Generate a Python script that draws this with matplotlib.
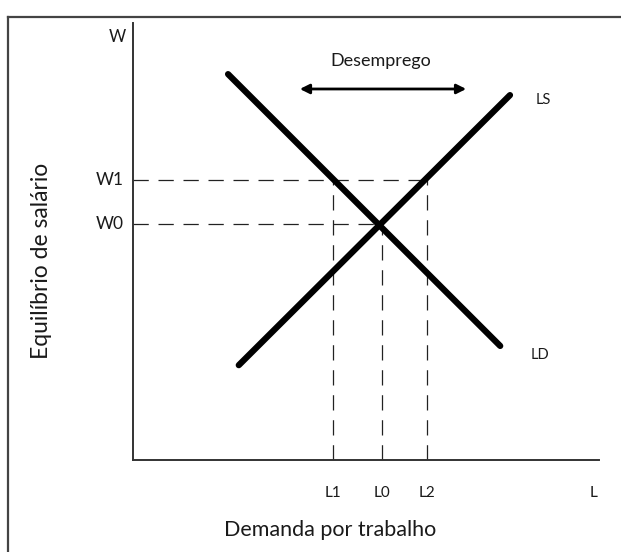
import numpy as np
import matplotlib
matplotlib.use("Agg")
import matplotlib.pyplot as plt
from matplotlib.lines import Line2D

plt.rcParams['font.family'] = ['Lato', 'DejaVu Sans']
plt.rcParams['lines.scale_dashes'] = False

# curvas (unidades arbitrárias, origem no cruzamento dos eixos)
ls_x = [22.7, 80.9]
ls_y = [21.7, 83.5]
ld_x = [20.4, 78.8]
ld_y = [88.3, 26.1]

# equilíbrio e salário acima do equilíbrio
w0, w1 = 54.0, 64.0
l0, l1, l2 = 53.5, 43.0, 63.0
desemprego = [35.8, 71.5]
desemprego_y = 84.9

tick_labels_x = ['L1', 'L0', 'L2']
tick_pos_x = [l1, l0, l2]

fig = plt.figure(figsize=(6.21, 5.52), dpi=100)
W, H = 621, 552
# eixos: origem em (133, 460) px, topo em 23 px, direita em 599 px
ax = fig.add_axes([133 / W, (H - 460) / H, (599 - 133) / W, (460 - 23) / H])
ax.set_xlim(0, 100)
ax.set_ylim(0, 100)
ax.set_clip_on(False)
for s in ['top', 'right']:
    ax.spines[s].set_visible(False)
for s in ['left', 'bottom']:
    ax.spines[s].set_linewidth(1.4)
    ax.spines[s].set_color('#333333')
ax.set_xticks([])
ax.set_yticks([])

# moldura (só topo e esquerda visíveis)
fig.add_artist(Line2D([8 / W, 1.0], [1 - 17 / H, 1 - 17 / H], transform=fig.transFigure,
                      color='#444444', lw=1.6))
fig.add_artist(Line2D([8 / W, 8 / W], [0, 1 - 17 / H], transform=fig.transFigure,
                      color='#444444', lw=1.6))

dash = (0, (11, 7))
dc = '#222222'
ax.plot([0, l2], [w1, w1], color=dc, lw=0.9, linestyle=dash)
ax.plot([0, l0], [w0, w0], color=dc, lw=0.9, linestyle=dash)
ax.plot([l1, l1], [0, w1], color=dc, lw=0.9, linestyle=dash)
ax.plot([l0, l0], [0, w0], color=dc, lw=0.9, linestyle=dash)
ax.plot([l2, l2], [0, w1], color=dc, lw=0.9, linestyle=dash)

ax.plot(ls_x, ls_y, color='black', lw=4.5, solid_capstyle='round')
ax.plot(ld_x, ld_y, color='black', lw=4.5, solid_capstyle='round')

ax.annotate('', xy=(desemprego[0], desemprego_y), xytext=(desemprego[1], desemprego_y),
            arrowprops=dict(arrowstyle='<|-|>', color='black', lw=2.0,
                            mutation_scale=14, shrinkA=0, shrinkB=0))
tc = '#1a1a1a'
ax.text(sum(desemprego) / 2 - 0.5, 91.3, 'Desemprego', ha='center', va='center',
        fontsize=13, color=tc)

ax.text(-3.4, 96.8, 'W', ha='center', va='center', fontsize=12, color=tc)
ax.text(-4.9, w1, 'W1', ha='center', va='center', fontsize=12.5, color=tc)
ax.text(-4.9, w0, 'W0', ha='center', va='center', fontsize=12.5, color=tc)
for p, t in zip(tick_pos_x, tick_labels_x):
    ax.text(p, -7.5, t, ha='center', va='center', fontsize=11, color=tc)
ax.text(98.9, -7.5, 'L', ha='center', va='center', fontsize=11, color=tc)
ax.text(88.0, 82.4, 'LS', ha='center', va='center', fontsize=10.5, color=tc)
ax.text(87.3, 24.0, 'LD', ha='center', va='center', fontsize=10.5, color=tc)

ax.text(-19.6, 45.5, 'Equilíbrio de salário', rotation=90, ha='center', va='center',
        fontsize=16.5, color=tc)
ax.text(42.3, -16.0, 'Demanda por trabalho', ha='center', va='center',
        fontsize=15.5, color=tc)

fig.savefig('out.png', dpi=100)
